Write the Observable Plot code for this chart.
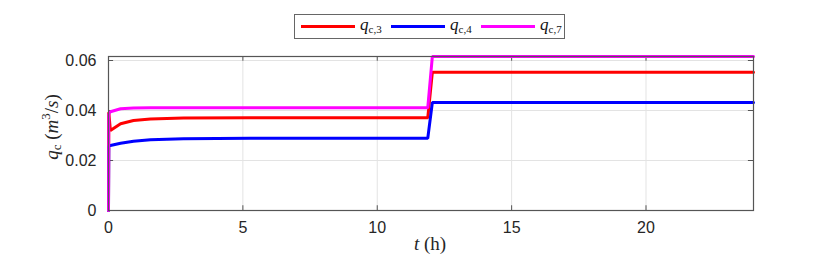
<!DOCTYPE html>
<html><head><meta charset="utf-8">
<script src="https://cdn.jsdelivr.net/npm/d3@7"></script>
<script src="https://cdn.jsdelivr.net/npm/@observablehq/plot@0.6"></script>
<style>
body{margin:0;background:#fff;}
#wrap{width:830px;height:260px;position:relative;overflow:hidden;}
#legend{height:45px;position:relative;}
#legbox{position:absolute;left:294px;top:14px;width:271px;height:25px;border:1px solid #666;box-sizing:border-box;font-family:"Liberation Serif",serif;font-size:17px;color:#111;}
.sw{position:absolute;top:10px;width:54px;height:3px;}
.lab{position:absolute;top:0px;white-space:nowrap;}
.lab sub{font-size:11px;font-style:normal;vertical-align:-3px;}
</style>
</head><body>
<div id="wrap">
  <div id="legend"><div id="legbox"></div></div>
  <div id="chart"></div>
</div>
<script>
// ---- data ----
const seriesNames = ["q_c,3", "q_c,4", "q_c,7"];
const seriesSubs = ["c,3", "c,4", "c,7"];
const seriesColors = ["#ff0000", "#0000ff", "#ff00ff"];
const tValues = [0, 0.01, 0.07, 0.45, 0.93, 1.56, 2.79, 5.28, 11.88, 12.05, 24];
const qc3 = [0, 0.0393, 0.0320, 0.0347, 0.0360, 0.0366, 0.0370, 0.0371, 0.0371, 0.0553, 0.0553];
const qc4 = [0, 0.0257, 0.0260, 0.0269, 0.0277, 0.0283, 0.0287, 0.0289, 0.0289, 0.0432, 0.0432];
const qc7 = [0, 0.0385, 0.0395, 0.0407, 0.0410, 0.0411, 0.0411, 0.0411, 0.0411, 0.0616, 0.0616];
const xTicks = [0, 5, 10, 15, 20];
const yTicks = [0, 0.02, 0.04, 0.06];
const xDomain = [0, 24];
const yDomain = [0, 0.0616];

const seriesValues = [qc3, qc4, qc7];
const data = [];
seriesValues.forEach((vals, i) => vals.forEach((v, j) => data.push({series: seriesNames[i], t: tValues[j], v})));

// ---- legend ----
const legbox = document.getElementById("legbox");
const swLeft = [6, 96, 186], labLeft = [65, 155, 245];
seriesNames.forEach((s, i) => {
  const sw = document.createElement("div");
  sw.className = "sw"; sw.style.left = swLeft[i] + "px"; sw.style.background = seriesColors[i];
  legbox.appendChild(sw);
  const lb = document.createElement("div");
  lb.className = "lab"; lb.style.left = labLeft[i] + "px";
  lb.innerHTML = `<i>q</i><sub>${seriesSubs[i]}</sub>`;
  legbox.appendChild(lb);
});

// ---- chart ----
const xt = 0.19, yt = 0.0019;
const chart = Plot.plot({
  width: 830, height: 215,
  marginLeft: 108, marginRight: 77, marginTop: 11, marginBottom: 50,
  x: {domain: xDomain},
  y: {domain: yDomain},
  color: {domain: seriesNames, range: seriesColors},
  style: {fontFamily: "'Liberation Sans', Arial, sans-serif", fontSize: "16px", color: "#262626", background: "#fff"},
  marks: [
    Plot.gridX(xTicks.slice(1), {stroke: "#e3e3e3", strokeOpacity: 1}),
    Plot.gridY(yTicks.slice(1), {stroke: "#e3e3e3", strokeOpacity: 1}),
    Plot.axisX(xTicks, {tickSize: 0, tickPadding: 11, label: null, tickFormat: d => String(d), fill: "#262626"}),
    Plot.axisY(yTicks, {tickSize: 0, tickPadding: 12, label: null, tickFormat: d => d === 0 ? "0" : d.toFixed(2), fill: "#262626"}),
    Plot.ruleX(xTicks, {y1: 0, y2: yt, stroke: "#555"}),
    Plot.ruleX(xTicks, {y1: yDomain[1] - yt, y2: yDomain[1], stroke: "#555"}),
    Plot.ruleY(yTicks, {x1: 0, x2: xt, stroke: "#555"}),
    Plot.ruleY(yTicks, {x1: xDomain[1] - xt, x2: xDomain[1], stroke: "#555"}),
    ...seriesNames.map(s => Plot.line(data.filter(d => d.series === s), {x: "t", y: "v", stroke: "series", strokeWidth: 3, strokeLinejoin: "miter"})),
    Plot.frame({stroke: "#555", strokeWidth: 1.2})
  ]
});
document.getElementById("chart").appendChild(chart);

// axis titles (LaTeX-style)
const svg = d3.select(chart);
const serif = "'Liberation Serif', serif";
const yl = svg.append("text")
  .attr("transform", "translate(58,82) rotate(-90)")
  .attr("text-anchor", "middle")
  .attr("font-family", serif).attr("font-size", 19).attr("fill", "#262626");
yl.append("tspan").attr("font-style", "italic").text("q");
yl.append("tspan").attr("font-size", 13).attr("dy", 3).text("c");
yl.append("tspan").attr("dy", -3).text(" (");
yl.append("tspan").attr("font-style", "italic").text("m");
yl.append("tspan").attr("font-size", 13).attr("dy", -8).text("3");
yl.append("tspan").attr("dy", 8).text("/");
yl.append("tspan").attr("font-style", "italic").text("s");
yl.append("tspan").text(")");

const xl = svg.append("text")
  .attr("x", 430).attr("y", 205)
  .attr("text-anchor", "middle")
  .attr("font-family", serif).attr("font-size", 19).attr("fill", "#262626");
xl.append("tspan").attr("font-style", "italic").text("t");
xl.append("tspan").text(" (h)");
</script>
</body></html>
